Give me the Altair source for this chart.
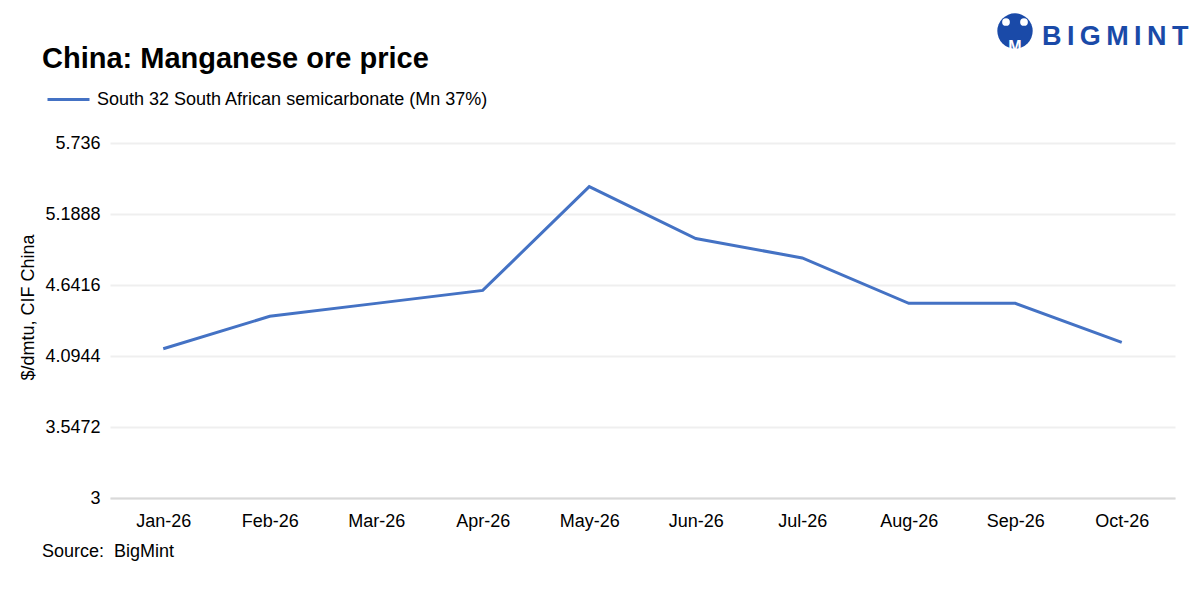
import altair as alt
import pandas as pd

# data
months = ["Jan-26", "Feb-26", "Mar-26", "Apr-26", "May-26",
          "Jun-26", "Jul-26", "Aug-26", "Sep-26", "Oct-26"]
prices = [4.15, 4.40, 4.50, 4.60, 5.40, 5.00, 4.85, 4.50, 4.50, 4.20]
series_name = "South 32 South African semicarbonate (Mn 37%)"
y_ticks = [3, 3.5472, 4.0944, 4.6416, 5.1888, 5.736]

title_text = "China: Manganese ore price"
source_text = "Source:\u00a0 BigMint"
logo_text = "B\u2009I\u2009G\u2009M\u2009I\u2009N\u2009T"

FONT = "Liberation Sans"
BLUE = "#4472C4"
LOGO_BLUE = "#1a4aa8"

df = pd.DataFrame({"month": months, "price": prices, "series": series_name})

line = alt.Chart(df).mark_line(strokeWidth=3).encode(
    x=alt.X(
        "month:N",
        sort=months,
        scale=alt.Scale(padding=0.5),
        axis=alt.Axis(
            title=None, labelAngle=0, labelFontSize=18, labelColor="#000",
            labelPadding=14, ticks=False, domainColor="#d9d9d9", domainWidth=2,
            grid=False,
        ),
    ),
    y=alt.Y(
        "price:Q",
        scale=alt.Scale(domain=[3, 5.736], nice=False, zero=False),
        axis=alt.Axis(
            values=y_ticks, format=".5~g", title="$/dmtu, CIF China",
            titleFontSize=18, titleFontWeight="normal", titleColor="#000",
            titleX=-73, titleY=164, titleAngle=270,
            labelFontSize=18, labelColor="#000", labelPadding=10,
            ticks=False, domain=False, gridColor="#efefef", gridWidth=2,
        ),
    ),
    color=alt.Color(
        "series:N",
        scale=alt.Scale(range=[BLUE]),
        legend=alt.Legend(
            title=None, orient="none", legendX=-64, legendY=-66,
            symbolType="stroke", symbolStrokeWidth=3, symbolSize=1764,
            labelFontSize=18, labelColor="#000", labelOffset=6, labelLimit=0,
        ),
    ),
)


def label(text, x, y, size, color="#000", weight="normal", align="left"):
    return alt.Chart(pd.DataFrame({"t": [text]})).mark_text(
        font=FONT, fontSize=size, fontWeight=weight, color=color,
        align=align, baseline="alphabetic",
    ).encode(text="t:N", x=alt.value(x), y=alt.value(y))


def dot(x, y, size, color):
    return alt.Chart(pd.DataFrame({"d": [0]})).mark_circle(
        size=size, color=color, opacity=1
    ).encode(x=alt.value(x), y=alt.value(y))


title = label(title_text, -68, -75, 29, weight="bold")
source = label(source_text, -68, 414, 18)
logo = (
    dot(905, -112, 1250, LOGO_BLUE)
    + dot(896, -121, 60, "white")
    + dot(914, -121, 60, "white")
    + label("M", 905, -91, 16, color="white", weight="bold", align="center")
    + label(logo_text, 932, -98, 27, color=LOGO_BLUE, weight="bold")
)

chart = (
    (line + title + source + logo)
    .properties(
        width=1065, height=355,
        autosize=alt.AutoSizeParams(type="none"),
        padding={"left": 102, "top": 135, "right": 17, "bottom": 92},
    )
    .configure(font=FONT)
    .configure_view(stroke=None)
)

chart.save("out.html", embed_options={"renderer": "svg", "actions": False})
